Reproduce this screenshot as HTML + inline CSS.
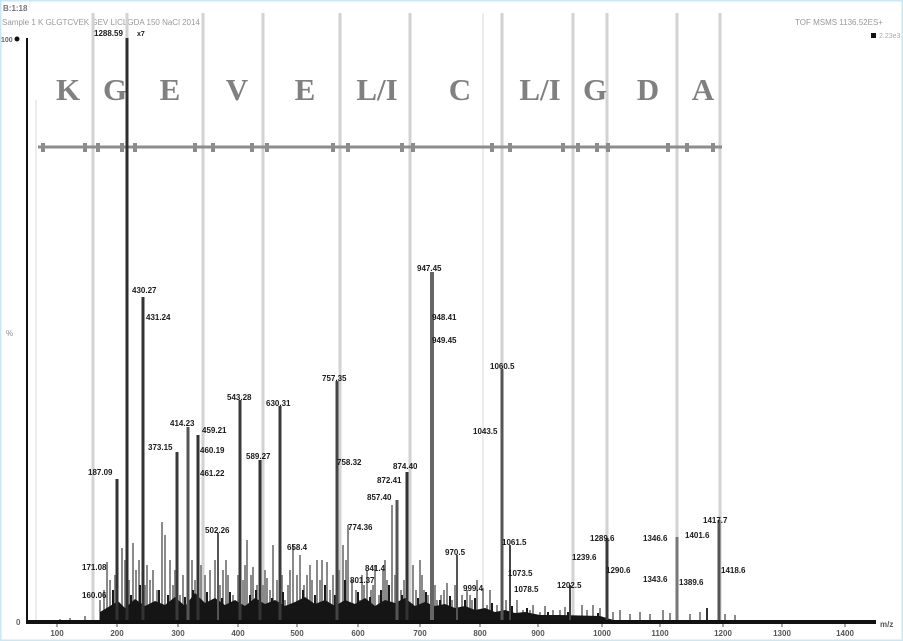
<!DOCTYPE html>
<html><head><meta charset="utf-8"><style>
html,body{margin:0;padding:0;background:#fff;}
svg{display:block;}
text{font-family:"Liberation Sans",sans-serif;}
.lb text{font-size:8px;font-weight:bold;fill:#1a1a1a;}
.aa text{font-family:"Liberation Serif",serif;font-size:31px;font-weight:bold;fill:#808080;}
.tk text{font-size:8px;font-weight:bold;fill:#555;}
</style></head><body>
<svg width="903" height="641" viewBox="0 0 903 641" xmlns="http://www.w3.org/2000/svg">
<rect x="0" y="0" width="903" height="641" fill="#fff"/>
<rect x="0.75" y="0.75" width="901.5" height="639.5" fill="none" stroke="#cbe7f3" stroke-width="1.5"/>

<!-- header -->
<text x="3" y="11" style="font-size:8px;font-weight:bold;fill:#777">B:1:18</text>
<text x="2" y="25" style="font-size:8px;fill:#999">Sample 1 K  GLGTCVEK GEV LICLGDA 150 NaCl 2014</text>
<text x="795" y="25" style="font-size:8px;fill:#999">TOF MSMS 1136.52ES+</text>
<rect x="871" y="33" width="5" height="5" fill="#111"/>
<text x="879" y="38" style="font-size:7px;fill:#aaa">2.23e3</text>

<!-- sequence marker lines -->
<g stroke="#d2d2d2" stroke-width="3">
<line x1="93" y1="13" x2="93" y2="622"/>
<line x1="127" y1="13" x2="127" y2="622"/>
<line x1="203" y1="13" x2="203" y2="622"/>
<line x1="263" y1="13" x2="263" y2="622"/>
<line x1="340" y1="13" x2="340" y2="622"/>
<line x1="410" y1="13" x2="410" y2="622"/>
<line x1="502" y1="13" x2="502" y2="622"/>
<line x1="573" y1="13" x2="573" y2="622"/>
<line x1="607" y1="13" x2="607" y2="622"/>
<line x1="677" y1="13" x2="677" y2="622"/>
<line x1="720" y1="13" x2="720" y2="622"/>
</g>
<g stroke="#ececec" stroke-width="2">
<line x1="483" y1="13" x2="483" y2="622"/>
<line x1="36" y1="100" x2="36" y2="622"/>
</g>

<!-- amino acid letters -->
<g class="aa" text-anchor="middle">
<text x="68" y="100">K</text>
<text x="115" y="100">G</text>
<text x="170" y="100">E</text>
<text x="237" y="100">V</text>
<text x="305" y="100">E</text>
<text x="377" y="100">L/I</text>
<text x="460" y="100">C</text>
<text x="540" y="100">L/I</text>
<text x="595" y="100">G</text>
<text x="648" y="100">D</text>
<text x="703" y="100">A</text>
</g>

<!-- sequence bar -->
<line x1="38" y1="147" x2="722" y2="147" stroke="#8c8c8c" stroke-width="3"/>
<g fill="#8c8c8c">
<rect x="41" y="143" width="4" height="9"/><rect x="83" y="143" width="4" height="9"/><rect x="96" y="143" width="4" height="9"/>
<rect x="120" y="143" width="4" height="9"/><rect x="133" y="143" width="4" height="9"/><rect x="193" y="143" width="4" height="9"/>
<rect x="211" y="143" width="4" height="9"/><rect x="250" y="143" width="4" height="9"/><rect x="265" y="143" width="4" height="9"/>
<rect x="331" y="143" width="4" height="9"/><rect x="346" y="143" width="4" height="9"/><rect x="400" y="143" width="4" height="9"/>
<rect x="411" y="143" width="4" height="9"/><rect x="490" y="143" width="4" height="9"/><rect x="508" y="143" width="4" height="9"/>
<rect x="561" y="143" width="4" height="9"/><rect x="576" y="143" width="4" height="9"/><rect x="595" y="143" width="4" height="9"/>
<rect x="606" y="143" width="4" height="9"/><rect x="666" y="143" width="4" height="9"/><rect x="685" y="143" width="4" height="9"/>
<rect x="711" y="143" width="4" height="9"/>
</g>

<!-- grass: gray tall -->
<path stroke="#8a8a8a" stroke-width="2" fill="none" d="
M100 622V600 M104 622V590 M107 622V562 M110 622V580 M122 622V548 M125 622V560 M133 622V543 M136 622V570
M147 622V565 M150 622V580 M153 622V570 M157 622V590 M162 622V522 M165 622V535 M170 622V560 M173 622V585
M180 622V595 M183 622V575 M192 622V560 M205 622V575 M210 622V570 M215 622V560 M223 622V570 M228 622V575
M233 622V595 M238 622V575 M245 622V565 M247 622V540 M253 622V567 M257 622V585 M263 622V585 M267 622V578
M270 622V590 M273 622V545 M277 622V580 M285 622V600 M290 622V570 M293 622V545 M297 622V575 M300 622V555
M304 622V585 M307 622V575 M312 622V580 M317 622V560 M322 622V560 M327 622V562 M330 622V590 M333 622V575
M343 622V545 M348 622V525 M352 622V580 M356 622V590 M360 622V600 M364 622V585 M367 622V570 M371 622V590
M375 622V565 M379 622V595 M383 622V570 M387 622V580 M392 622V505 M401 622V590 M413 622V565 M416 622V590
M420 622V560 M424 622V590 M428 622V595 M437 622V600 M441 622V595 M447 622V583 M452 622V600 M462 622V595
M467 622V590 M472 622V600 M477 622V580 M483 622V588 M487 622V605 M490 622V590 M497 622V605 M506 622V600
M517 622V600 M523 622V610 M530 622V610 M533 622V605 M540 622V612 M545 622V606 M553 622V610 M560 622V610
M565 622V607 M582 622V605 M587 622V610 M593 622V605 M600 622V608 M613 622V612 M620 622V610 M630 622V614
M640 622V612 M650 622V614 M663 622V610 M670 622V613 M690 622V614 M700 622V612 M725 622V614 M735 622V615
M70 622V618 M85 622V616 M60 622V619
M115 622V575 M129 622V580 M139 622V560 M145 622V585 M175 622V570 M195 622V580 M201 622V565 M220 622V585
M226 622V560 M243 622V580 M251 622V575 M265 622V570 M282 622V575 M288 622V585 M310 622V565 M320 622V580
M339 622V570 M346 622V560 M362 622V575 M373 622V585 M385 622V560 M395 622V575 M404 622V580 M422 622V575
M435 622V585 M444 622V590 M455 622V585 M470 622V595"/>

<!-- grass: dark short -->
<path stroke="#1a1a1a" stroke-width="2" fill="none" d="
M113 622V590 M131 622V595 M140 622V585 M159 622V590 M168 622V595 M185 622V597 M193 622V590 M207 622V592
M222 622V598 M230 622V592 M250 622V595 M256 622V590 M272 622V598 M283 622V592 M303 622V590 M315 622V595
M325 622V585 M335 622V595 M345 622V580 M358 622V592 M370 622V597 M381 622V590 M389 622V585 M402 622V595
M418 622V598 M426 622V592 M440 622V600 M450 622V596 M465 622V600 M475 622V598 M492 622V603 M512 622V606
M527 622V608 M548 622V612 M568 622V612 M598 622V613"/>

<!-- dark base band -->
<polygon fill="#151515" points="100,622 100,612 110,606 118,601 125,608 135,599 145,606 155,601 165,605 175,597 185,606 195,593 205,603 215,598 225,605 235,600 245,606 255,598 265,604 275,600 285,606 295,602 305,597 315,604 325,600 335,606 345,600 355,604 365,598 375,606 385,600 395,603 405,598 415,606 425,602 435,606 445,604 455,608 465,606 475,610 485,608 495,612 505,610 515,613 525,612 540,615 560,615 600,616 620,622"/>

<!-- major peaks -->
<g fill="none">
<line x1="127" y1="38" x2="127" y2="622" stroke="#2e2e2e" stroke-width="3"/>
<line x1="117" y1="479" x2="117" y2="622" stroke="#333" stroke-width="3"/>
<line x1="143" y1="297" x2="143" y2="622" stroke="#333" stroke-width="3"/>
<line x1="177" y1="452" x2="177" y2="622" stroke="#3a3a3a" stroke-width="3"/>
<line x1="188" y1="427" x2="188" y2="622" stroke="#555" stroke-width="3"/>
<line x1="198" y1="435" x2="198" y2="622" stroke="#333" stroke-width="3"/>
<line x1="218" y1="533" x2="218" y2="622" stroke="#555" stroke-width="2"/>
<line x1="240" y1="400" x2="240" y2="622" stroke="#3a3a3a" stroke-width="3"/>
<line x1="260" y1="460" x2="260" y2="622" stroke="#333" stroke-width="3"/>
<line x1="280" y1="406" x2="280" y2="622" stroke="#3a3a3a" stroke-width="3"/>
<line x1="337" y1="381" x2="337" y2="622" stroke="#444" stroke-width="3"/>
<line x1="397" y1="500" x2="397" y2="622" stroke="#555" stroke-width="3"/>
<line x1="407" y1="472" x2="407" y2="622" stroke="#333" stroke-width="3"/>
<line x1="432" y1="272" x2="432" y2="622" stroke="#666" stroke-width="4"/>
<line x1="457" y1="555" x2="457" y2="622" stroke="#555" stroke-width="2"/>
<line x1="502" y1="369" x2="502" y2="622" stroke="#555" stroke-width="3"/>
<line x1="510" y1="545" x2="510" y2="622" stroke="#444" stroke-width="2"/>
<line x1="570" y1="585" x2="570" y2="622" stroke="#444" stroke-width="2"/>
<line x1="607" y1="538" x2="607" y2="622" stroke="#3a3a3a" stroke-width="3"/>
<line x1="677" y1="537" x2="677" y2="622" stroke="#777" stroke-width="3"/>
<line x1="707" y1="608" x2="707" y2="622" stroke="#333" stroke-width="2"/>
<line x1="719" y1="520" x2="719" y2="622" stroke="#555" stroke-width="3"/>
</g>

<!-- axes -->
<line x1="27" y1="38" x2="27" y2="624" stroke="#111" stroke-width="2"/>
<line x1="27" y1="622" x2="876" y2="622" stroke="#111" stroke-width="4"/>
<g stroke="#555" stroke-width="1">
<line x1="57" y1="624" x2="57" y2="627"/><line x1="117" y1="624" x2="117" y2="627"/><line x1="178" y1="624" x2="178" y2="627"/>
<line x1="238" y1="624" x2="238" y2="627"/><line x1="297" y1="624" x2="297" y2="627"/><line x1="358" y1="624" x2="358" y2="627"/>
<line x1="420" y1="624" x2="420" y2="627"/><line x1="480" y1="624" x2="480" y2="627"/><line x1="538" y1="624" x2="538" y2="627"/>
<line x1="602" y1="624" x2="602" y2="627"/><line x1="660" y1="624" x2="660" y2="627"/><line x1="723" y1="624" x2="723" y2="627"/>
<line x1="782" y1="624" x2="782" y2="627"/><line x1="845" y1="624" x2="845" y2="627"/>
</g>
<g class="tk" text-anchor="middle">
<text x="57" y="636">100</text><text x="117" y="636">200</text><text x="178" y="636">300</text>
<text x="238" y="636">400</text><text x="297" y="636">500</text><text x="358" y="636">600</text>
<text x="420" y="636">700</text><text x="480" y="636">800</text><text x="538" y="636">900</text>
<text x="602" y="636">1000</text><text x="660" y="636">1100</text><text x="723" y="636">1200</text>
<text x="782" y="636">1300</text><text x="845" y="636">1400</text>
</g>
<text x="880" y="627" style="font-size:8px;font-weight:bold;fill:#555">m/z</text>
<text x="1" y="42" style="font-size:7px;font-weight:bold;fill:#666">100</text>
<circle cx="17" cy="39" r="2.5" fill="#111"/>
<text x="6" y="336" style="font-size:8px;fill:#888">%</text>
<text x="16" y="625" style="font-size:8px;font-weight:bold;fill:#666">0</text>

<!-- peak labels -->
<g class="lb">
<text x="94" y="36">1288.59</text><text x="137" y="36" style="font-size:7px">x7</text>
<text x="132" y="293">430.27</text>
<text x="146" y="320">431.24</text>
<text x="88" y="475">187.09</text>
<text x="148" y="450">373.15</text>
<text x="170" y="426">414.23</text>
<text x="202" y="433">459.21</text>
<text x="200" y="453">460.19</text>
<text x="200" y="476">461.22</text>
<text x="205" y="533">502.26</text>
<text x="227" y="400">543.28</text>
<text x="246" y="459">589.27</text>
<text x="266" y="406">630.31</text>
<text x="322" y="381">757.35</text>
<text x="337" y="465">758.32</text>
<text x="348" y="530">774.36</text>
<text x="287" y="550">658.4</text>
<text x="82" y="570">171.08</text>
<text x="82" y="598">160.06</text>
<text x="393" y="469">874.40</text>
<text x="377" y="483">872.41</text>
<text x="367" y="500">857.40</text>
<text x="365" y="571">841.4</text>
<text x="350" y="583">801.37</text>
<text x="417" y="271">947.45</text>
<text x="432" y="320">948.41</text>
<text x="432" y="343">949.45</text>
<text x="490" y="369">1060.5</text>
<text x="473" y="434">1043.5</text>
<text x="445" y="555">970.5</text>
<text x="463" y="591">999.4</text>
<text x="502" y="545">1061.5</text>
<text x="508" y="576">1073.5</text>
<text x="514" y="592">1078.5</text>
<text x="557" y="588">1202.5</text>
<text x="572" y="560">1239.6</text>
<text x="590" y="541">1289.6</text>
<text x="606" y="573">1290.6</text>
<text x="643" y="541">1346.6</text>
<text x="643" y="582">1343.6</text>
<text x="679" y="585">1389.6</text>
<text x="703" y="523">1417.7</text>
<text x="685" y="538">1401.6</text>
<text x="721" y="573">1418.6</text>
</g>
</svg>
</body></html>
